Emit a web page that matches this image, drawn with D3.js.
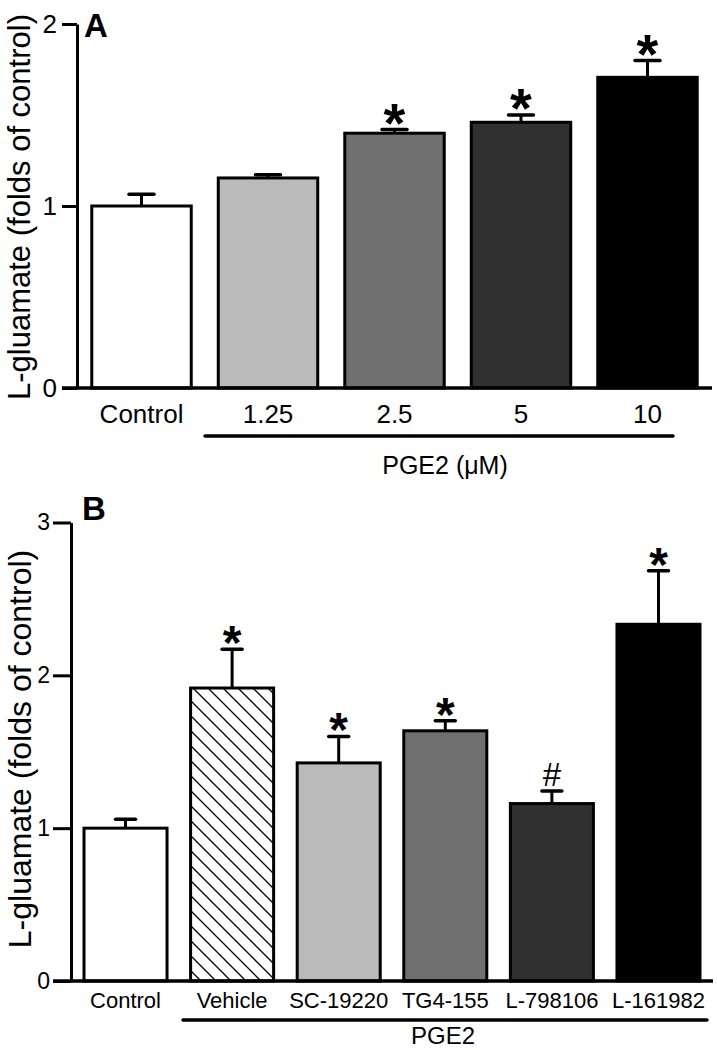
<!DOCTYPE html>
<html><head><meta charset="utf-8">
<script src="https://cdn.jsdelivr.net/npm/d3@7"></script>
<style>
body{margin:0;background:#fff}
text{font-family:Arial,"Liberation Sans",Helvetica,sans-serif;fill:#000}
</style>
</head><body>
<svg id="chart" width="717" height="1050"></svg>
<script>
// ---------- data ----------
const categoriesA = ["Control", "1.25", "2.5", "5", "10"];
const valuesA = [1.0, 1.154, 1.40, 1.46, 1.707];
const errorsA = [0.065, 0.018, 0.02, 0.04, 0.093];
const marksA = ["", "", "*", "*", "*"];
const ticksA = [0, 1, 2];

const categoriesB = ["Control", "Vehicle", "SC-19220", "TG4-155", "L-798106", "L-161982"];
const valuesB = [1.0, 1.917, 1.427, 1.637, 1.161, 2.334];
const errorsB = [0.058, 0.253, 0.173, 0.066, 0.083, 0.35];
const marksB = ["", "*", "*", "*", "#", "*"];
const ticksB = [0, 1, 2, 3];

const yTitle = "L-gluamate (folds of control)";

// ---------- styles ----------
const fillsA = ["#ffffff", "#bababa", "#707070", "#303030", "#000000"];
const fillsB = ["#ffffff", "url(#hatch)", "#bababa", "#707070", "#303030", "#000000"];

const svg = d3.select("#chart");
const defs = svg.append("defs");
const pat = defs.append("pattern").attr("id", "hatch")
  .attr("patternUnits", "userSpaceOnUse").attr("width", 15).attr("height", 15);
pat.append("rect").attr("width", 15).attr("height", 15).attr("fill", "#fff");
pat.append("path").attr("d", "M0,0L15,15M-2,13L2,17M13,-2L17,2")
  .attr("stroke", "#000").attr("stroke-width", 1.3);

function panel(o) {
  const g = svg.append("g");
  const x = d3.scaleBand().domain(o.cats).range([o.axisX, o.xEnd])
    .paddingInner(o.pi).paddingOuter(o.po);
  const y = d3.scaleLinear().domain([0, o.ymax]).range([o.y0, o.yTop]);
  const cx = d => x(d) + x.bandwidth() / 2;
  const rows = o.cats.map((c, i) => ({c, v: o.vals[i], e: o.errs[i], m: o.marks[i], f: o.fills[i]}));

  // bars
  g.selectAll("rect.bar").data(rows).join("rect").attr("class", "bar")
    .attr("x", d => x(d.c) + 1.5).attr("width", x.bandwidth() - 3)
    .attr("y", d => y(d.v)).attr("height", d => y(0) - y(d.v))
    .attr("fill", d => d.f).attr("stroke", "#000").attr("stroke-width", 3);

  // error bars
  g.selectAll("line.stem").data(rows).join("line").attr("class", "stem")
    .attr("x1", d => cx(d.c)).attr("x2", d => cx(d.c))
    .attr("y1", d => y(d.v)).attr("y2", d => y(d.v + d.e))
    .attr("stroke", "#000").attr("stroke-width", 3);
  g.selectAll("line.cap").data(rows).join("line").attr("class", "cap")
    .attr("x1", d => cx(d.c) - o.capW / 2).attr("x2", d => cx(d.c) + o.capW / 2)
    .attr("y1", d => y(d.v + d.e)).attr("y2", d => y(d.v + d.e))
    .attr("stroke", "#000").attr("stroke-width", 3.5).attr("stroke-linecap", "round");

  // significance marks
  g.selectAll("text.sig").data(rows.filter(d => d.m)).join("text").attr("class", "sig")
    .attr("x", d => cx(d.c))
    .attr("y", d => d.m === "*" ? y(d.v + d.e) - o.gap + o.starFs * 0.29 : y(d.v + d.e) - o.gap - 1)
    .attr("text-anchor", "middle")
    .attr("font-weight", d => d.m === "*" ? "bold" : "normal")
    .attr("font-size", d => d.m === "*" ? o.starFs : o.hashFs)
    .text(d => d.m);

  // y axis
  const yAxis = d3.axisLeft(y).tickValues(o.ticks).tickSize(o.tickLen).tickSizeOuter(0)
    .tickPadding(o.tickPad).tickFormat(d3.format("d"));
  const ga = g.append("g").attr("transform", `translate(${o.axisX},0)`).call(yAxis);
  ga.select(".domain").attr("stroke", "#000").attr("stroke-width", 3);
  ga.selectAll(".tick line").attr("stroke", "#000").attr("stroke-width", 3);
  ga.selectAll(".tick text").attr("font-size", o.tickFs).attr("font-family", null).attr("fill", "#000");

  // x axis
  g.append("line").attr("x1", o.axisX - o.tickLen).attr("x2", o.xEnd)
    .attr("y1", y(0)).attr("y2", y(0)).attr("stroke", "#000").attr("stroke-width", 3.5);
  const xAxis = d3.axisBottom(x).tickSize(0).tickPadding(o.labPad);
  const gx = g.append("g").attr("transform", `translate(0,${y(0)})`).call(xAxis);
  gx.select(".domain").remove();
  gx.selectAll(".tick text").attr("font-size", o.labFs).attr("font-family", null).attr("fill", "#000");

  // group line + label
  g.append("line").attr("x1", o.grpX1).attr("x2", o.grpX2).attr("y1", o.grpY).attr("y2", o.grpY)
    .attr("stroke", "#000").attr("stroke-width", 3.5).attr("stroke-linecap", "round");
  g.append("text").attr("x", o.grpTextX).attr("y", o.grpTextY).attr("text-anchor", "middle")
    .attr("font-size", o.grpFs).text(o.grpText);

  // y title
  g.append("text").attr("transform", `translate(${o.titleX},${o.titleY}) rotate(-90)`)
    .attr("text-anchor", "middle").attr("font-size", o.titleFs).text(yTitle);

  // panel letter
  g.append("text").attr("x", o.letterX).attr("y", o.letterY).attr("font-weight", "bold")
    .attr("font-size", 33).text(o.letter);
}

panel({
  cats: categoriesA, vals: valuesA, errs: errorsA, marks: marksA, fills: fillsA, ticks: ticksA,
  ymax: 2, y0: 388, yTop: 24, axisX: 77, xEnd: 712, pi: 0.19, po: 0.105,
  capW: 25, gap: 4, starFs: 56, hashFs: 32,
  tickLen: 15, tickPad: 5, tickFs: 26, labFs: 26, labPad: 17,
  grpX1: 205, grpX2: 673, grpY: 436, grpTextX: 445, grpTextY: 474, grpFs: 25, grpText: "PGE2 (\u03bcM)",
  titleX: 29.5, titleY: 207, titleFs: 31, letter: "A", letterX: 84, letterY: 37
});

panel({
  cats: categoriesB, vals: valuesB, errs: errorsB, marks: marksB, fills: fillsB, ticks: ticksB,
  ymax: 3, y0: 981, yTop: 522.5, axisX: 71, xEnd: 713, pi: 0.193, po: 0.108,
  capW: 20, gap: 4, starFs: 48, hashFs: 33,
  tickLen: 18, tickPad: 3, tickFs: 23, labFs: 22, labPad: 11,
  grpX1: 183, grpX2: 707, grpY: 1020, grpTextX: 443, grpTextY: 1044, grpFs: 24, grpText: "PGE2",
  titleX: 31, titleY: 749, titleFs: 32, letter: "B", letterX: 82, letterY: 520
});
</script>
</body></html>
